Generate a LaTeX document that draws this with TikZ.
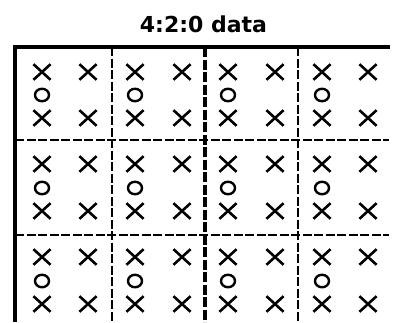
\documentclass[tikz,border=0pt]{standalone}
\usepackage{fontspec}
\setmainfont{DejaVu Sans}
\usetikzlibrary{shapes.misc,shapes.geometric}
\begin{document}
\begin{tikzpicture}[x=1pt,y=-1pt,
  xmark/.style={cross out,draw=black,line width=2.6pt,minimum width=14.5pt,minimum height=13pt,inner sep=0pt},
  omark/.style={ellipse,draw=black,line width=2.4pt,minimum width=14pt,minimum height=12.5pt,inner sep=0pt},
  border/.style={line width=3.2pt,black},
  thinsep/.style={line width=1.7pt,black,dash pattern=on 9pt off 2.5pt},
  thicksep/.style={line width=3.2pt,black,dash pattern=on 10pt off 2.5pt},
  titlestyle/.style={font=\bfseries\fontsize{22}{26}\selectfont,inner sep=0pt,anchor=base}]
\useasboundingbox (0,0) rectangle (396,322);
\node[titlestyle] (title) at (203.5,32) {4:2:0 data};
% grid
\draw[border] (13.5,47) -- (390,47);
\draw[border] (15,45.4) -- (15,322);
\draw[thinsep] (112,47) -- (112,322);
\draw[thicksep] (205,47) -- (205,322);
\draw[thinsep] (298,47) -- (298,322);
\draw[thinsep] (15,140) -- (389,140);
\draw[thinsep] (15,235) -- (389,235);
% samples
\foreach \r/\ya/\yo/\yb in {1/72/95/118, 2/164/188/211, 3/257/281/304}{
  \foreach \c/\x in {1/42,2/88,3/135,4/182,5/228,6/275,7/322,8/368}{
    \node[xmark] (xa-\r-\c) at (\x,\ya) {};
    \node[xmark] (xb-\r-\c) at (\x,\yb) {};
  }
  \foreach \c/\x in {1/42,3/135,5/228,7/322}{
    \node[omark] (o-\r-\c) at (\x,\yo) {};
  }
}
\end{tikzpicture}
\end{document}
